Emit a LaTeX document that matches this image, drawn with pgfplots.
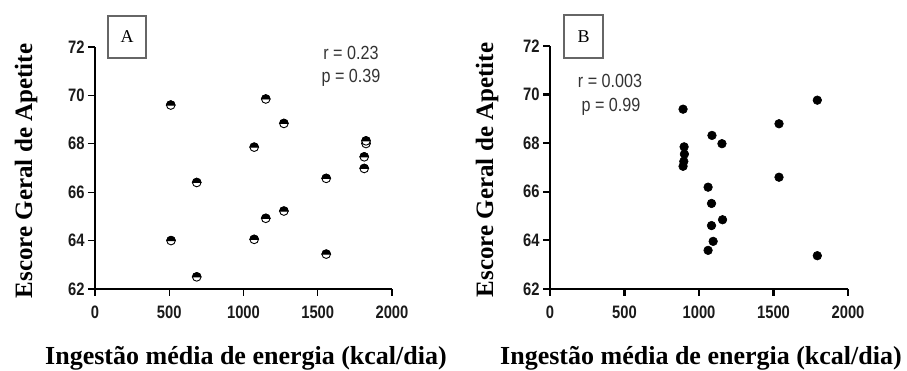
\documentclass[border=0pt]{standalone}
\usepackage{pgfplots}
\pgfplotsset{compat=1.18}
\usepackage{fontspec}
\setmainfont{Liberation Serif}
\newfontfamily\tickfont[FakeStretch=0.82]{Liberation Sans Bold}
\newfontfamily\statfont[FakeStretch=0.85]{Liberation Sans}
\definecolor{tickcol}{HTML}{1A1A1A}
\definecolor{statcol}{HTML}{333333}

\pgfdeclareplotmark{tophalf}{%
  \pgfpathcircle{\pgfpointorigin}{\pgfplotmarksize}%
  \pgfsetfillcolor{white}%
  \pgfusepathqfillstroke
  \pgfpathmoveto{\pgfqpoint{\pgfplotmarksize}{0pt}}%
  \pgfpatharc{0}{180}{\pgfplotmarksize}%
  \pgfpathclose
  \pgfsetfillcolor{black}%
  \pgfusepathqfillstroke
}

\pgfplotstableread{
x y
510 69.6
512 64.0
685 66.4
685 62.5
1072 67.86
1072 64.05
1150 69.85
1150 64.92
1272 68.84
1272 65.22
1557 66.57
1557 63.44
1813 66.98
1813 67.46
1825 68.01
1825 68.12
}\dataA

\pgfplotstableread{
x y
893 69.4
900 67.85
902 67.55
898 67.25
893 67.05
1087 68.32
1154 67.98
1061 66.19
1084 65.52
1084 64.61
1158 64.85
1095 63.96
1061 63.59
1537 68.8
1537 66.6
1794 69.77
1794 63.37
}\dataB

\pgfplotsset{
  myaxis/.style={
    scale only axis,
    anchor=south west,
    xmin=0, xmax=2000, ymin=62, ymax=72,
    axis x line=bottom, axis y line=left,
    axis line style={-, black},
    xtick={0,500,1000,1500,2000},
    ytick={62,64,66,68,70,72},
    tick align=outside,
    major tick length=7pt,
    tick style={black},
    /pgf/number format/assume math mode=true,
    /pgf/number format/1000 sep={},
    ticklabel style={font=\tickfont\fontsize{18}{18}\selectfont, text=tickcol},
    xticklabel style={yshift=-6pt},
    clip=false,
  }
}

\begin{document}
\begin{tikzpicture}[x=1pt,y=1pt]
\path[use as bounding box] (0,0) rectangle (907,371);

% Panel A
\begin{axis}[myaxis, at={(95pt,82pt)}, width=297pt, height=242pt,
  axis line style={line width=1.3pt}, tick style={line width=1.3pt}]
\addplot[only marks, mark=tophalf, mark size=4.3pt,
  mark options={draw=black, line width=0.9pt}] table[x=x,y=y] {\dataA};
\end{axis}

% Panel B
\begin{axis}[myaxis, at={(550pt,82pt)}, width=298pt, height=243pt,
  axis line style={line width=2.2pt}, tick style={line width=2.2pt}]
\addplot[only marks, mark=*, mark size=4.3pt,
  mark options={draw=black, fill=black, line width=0.6pt}] table[x=x,y=y] {\dataB};
\end{axis}

% boxes
\node[draw=black!60, line width=1.2pt, minimum width=38pt, minimum height=42pt, inner sep=0pt,
  font=\fontsize{18}{18}\selectfont] at (127,334) {A};
\node[draw=black!60, line width=1.2pt, minimum width=39pt, minimum height=43pt, inner sep=0pt,
  font=\fontsize{18}{18}\selectfont] at (583.5,334.5) {B};

% stats
\node[font=\statfont\fontsize{19}{19}\selectfont, text=statcol] at (351,318) {r = 0.23};
\node[font=\statfont\fontsize{19}{19}\selectfont, text=statcol] at (351,293) {p = 0.39};
\node[font=\statfont\fontsize{19}{19}\selectfont, text=statcol] at (610,290) {r = 0.003};
\node[font=\statfont\fontsize{19}{19}\selectfont, text=statcol] at (611,264) {p = 0.99};

% y labels
\node[rotate=90, anchor=base, font=\bfseries\fontsize{25}{25}\selectfont] at (32,200) {Escore Geral de Apetite};
\node[rotate=90, anchor=base, font=\bfseries\fontsize{25}{25}\selectfont] at (493,201) {Escore Geral de Apetite};

% x labels
\node[anchor=base, font=\bfseries\fontsize{26}{26}\selectfont] at (246,6) {Ingestão média de energia (kcal/dia)};
\node[anchor=base, font=\bfseries\fontsize{26}{26}\selectfont] at (701,6) {Ingestão média de energia (kcal/dia)};
\end{tikzpicture}
\end{document}
